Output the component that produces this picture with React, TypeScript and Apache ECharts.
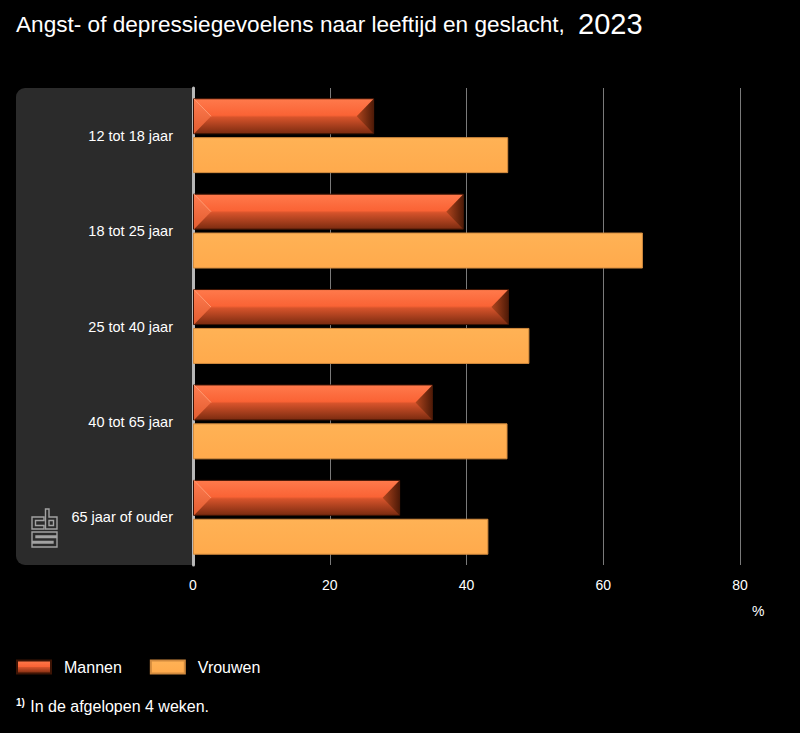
import React, { useEffect, useRef } from "react";
import * as echarts from "echarts";

const categories = ["12 tot 18 jaar", "18 tot 25 jaar", "25 tot 40 jaar", "40 tot 65 jaar", "65 jaar of ouder"];
const mannen = [26.5, 39.6, 46.2, 35.1, 30.3];
const vrouwen = [46.1, 65.8, 49.2, 46.0, 43.2];
const xTicks = [0, 20, 40, 60, 80];

const BAR_W = 36;
const GAP = 0.08;
const BEVEL = 17;

export default function App() {
  const ref = useRef<HTMLDivElement>(null);
  useEffect(() => {
    document.body.style.margin = "0";
    document.body.style.background = "#000";
    const chart = echarts.init(ref.current!, null, { renderer: "svg" });
    const font = "'Liberation Sans', Arial, sans-serif";
    const mGrad = new echarts.graphic.LinearGradient(0, 0, 0, 1, [
      { offset: 0, color: "#ff7a4c" },
      { offset: 0.47, color: "#fa6335" },
      { offset: 0.53, color: "#d6532b" },
      { offset: 1, color: "#7a2b10" },
    ]);
    const vGrad = new echarts.graphic.LinearGradient(0, 0, 0, 1, [
      { offset: 0, color: "#ffb255" },
      { offset: 1, color: "#ffaa4c" },
    ]);
    const logoStyle = { stroke: "#a2a2a2", fill: "none", lineWidth: 1.4 };
    const option: any = {
      animation: false,
      backgroundColor: "#000",
      textStyle: { fontFamily: font },
      grid: { left: 193, right: 60, top: 88, bottom: 168, containLabel: false },
      xAxis: {
        type: "value",
        min: xTicks[0],
        max: xTicks[xTicks.length - 1],
        interval: 20,
        axisLine: { show: false },
        axisTick: { show: false },
        axisLabel: { color: "#fff", fontSize: 14, margin: 13, fontFamily: font },
        splitLine: { show: true, lineStyle: { color: "#7a7a7a", width: 1 } },
      },
      yAxis: {
        type: "category",
        data: categories,
        inverse: true,
        axisLine: { show: true, lineStyle: { color: "#b8b8b8", width: 3 } },
        axisTick: { show: false },
        axisLabel: { color: "#fff", fontSize: 14.5, margin: 20, fontFamily: font },
      },
      legend: {
        data: ["Mannen", "Vrouwen"],
        left: 16,
        top: 659,
        padding: 0,
        orient: "horizontal",
        itemWidth: 34,
        itemHeight: 13,
        itemGap: 28,
        icon: "rect",
        textStyle: { color: "#fff", fontSize: 16, padding: [0, 0, 0, 8], fontFamily: font },
      },
      series: [
        {
          name: "Mannen",
          type: "bar",
          data: mannen,
          barWidth: BAR_W,
          barGap: GAP * 100 + "%",
          itemStyle: { color: mGrad, borderColor: "#3d1405", borderWidth: 1 },
          z: 2,
        },
        {
          name: "Vrouwen",
          type: "bar",
          data: vrouwen,
          barWidth: BAR_W,
          barGap: GAP * 100 + "%",
          itemStyle: { color: vGrad, borderColor: "#d18a3e", borderWidth: 1 },
          z: 2,
        },
        {
          name: "MannenBevel",
          type: "custom",
          z: 3,
          silent: true,
          data: mannen.map((v, i) => [v, i]),
          encode: { x: 0, y: 1 },
          renderItem: (params: any, api: any) => {
            const v = api.value(0);
            const c = api.value(1);
            const p0 = api.coord([0, c]);
            const p1 = api.coord([v, c]);
            const total = BAR_W * 2 + BAR_W * GAP;
            const top = p0[1] - total / 2 + 0.5;
            const bottom = top + BAR_W - 1;
            const mid = (top + bottom) / 2;
            const x0 = p0[0] + 1;
            const x1 = p1[0] - 0.5;
            return {
              type: "group",
              children: [
                {
                  type: "polygon",
                  shape: { points: [[x0, top], [x0 + BEVEL, mid], [x0, bottom]] },
                  style: {
                    fill: new echarts.graphic.LinearGradient(0, 0, 0, 1, [
                      { offset: 0, color: "#ff7c50" },
                      { offset: 1, color: "#e25c30" },
                    ]),
                  },
                },
                {
                  type: "line",
                  shape: { x1: x0, y1: top, x2: x0 + BEVEL, y2: mid },
                  style: { stroke: "#ff9a72", lineWidth: 1 },
                },
                {
                  type: "polygon",
                  shape: { points: [[x1, top], [x1 - BEVEL, mid], [x1, bottom]] },
                  style: {
                    fill: new echarts.graphic.LinearGradient(0, 0, 1, 0, [
                      { offset: 0, color: "#b2461e" },
                      { offset: 1, color: "#4e1a07" },
                    ]),
                  },
                },
              ],
            };
          },
        },
      ],
      graphic: [
        {
          type: "rect",
          z: -10,
          shape: { x: 16, y: 88, width: 177, height: 477, r: [9, 0, 0, 9] },
          style: { fill: "#2b2b2b" },
        },
        {
          type: "group",
          x: 32,
          y: 509,
          z: 5,
          children: [
            {
              type: "polygon",
              shape: { points: [[12, 8], [0, 8], [0, 20], [12, 20], [12, 16.5], [3.5, 16.5], [3.5, 11.5], [12, 11.5]] },
              style: logoStyle,
            },
            {
              type: "polygon",
              shape: { points: [[13.5, 0], [13.5, 20], [25, 20], [25, 8], [17, 8], [17, 0]] },
              style: logoStyle,
            },
            { type: "rect", shape: { x: 17, y: 11.5, width: 4.5, height: 5 }, style: logoStyle },
            {
              type: "polygon",
              shape: {
                points: [
                  [25, 23], [0, 23], [0, 32.5], [21, 32.5], [21, 34], [0, 34], [0, 38],
                  [25, 38], [25, 28.5], [4, 28.5], [4, 27], [25, 27],
                ],
              },
              style: logoStyle,
            },
          ],
        },
        {
          type: "text",
          x: 16,
          y: 24,
          style: {
            text: "Angst- of depressiegevoelens naar leeftijd en geslacht,",
            fill: "#fff",
            font: "22.6px " + font,
            verticalAlign: "middle",
          },
        },
        {
          type: "text",
          x: 578,
          y: 24,
          style: {
            text: "2023",
            fill: "#fff",
            font: "29px " + font,
            verticalAlign: "middle",
          },
        },
        {
          type: "text",
          x: 752,
          y: 611,
          style: { text: "%", fill: "#fff", font: "14px " + font, verticalAlign: "middle" },
        },
        {
          type: "text",
          x: 16,
          y: 706,
          style: {
            text: "{s|1)} {t|In de afgelopen 4 weken.}",
            verticalAlign: "middle",
            rich: {
              s: { fill: "#fff", fontSize: 10, fontWeight: "bold", fontFamily: font, verticalAlign: "top", padding: [0, 2, 8, 0] },
              t: { fill: "#fff", fontSize: 16, fontFamily: font },
            },
          },
        },
      ],
    };
    chart.setOption(option);
    return () => chart.dispose();
  }, []);
  return <div ref={ref} style={{ width: 800, height: 733, background: "#000" }} />;
}
